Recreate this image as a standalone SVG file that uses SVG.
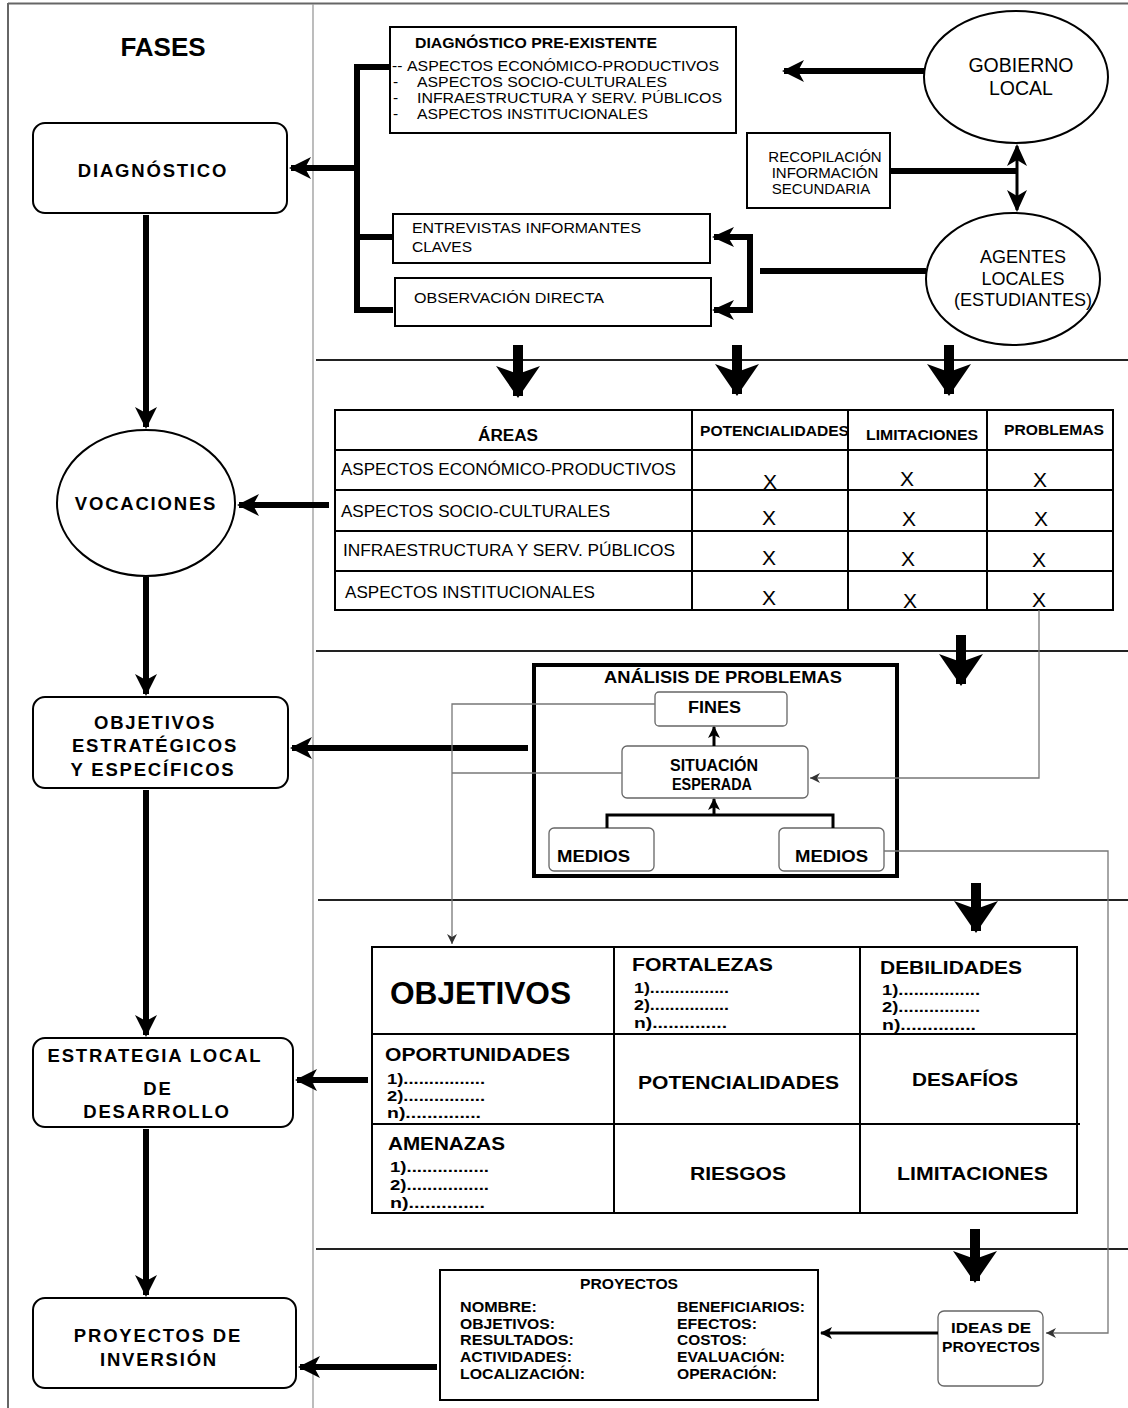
<svg xmlns="http://www.w3.org/2000/svg" width="1128" height="1408" viewBox="0 0 1128 1408">
<defs>
<style>
text{font-family:"Liberation Sans",Arial,sans-serif;fill:#000}
.ph{font-weight:bold;font-size:18.5px;letter-spacing:1.8px;text-anchor:middle}
.box{fill:#fff;stroke:#000;stroke-width:2}
.rbox{fill:#fff;stroke:#000;stroke-width:2}
.sbox{fill:#fff;stroke:#666;stroke-width:1.3}
.thick{stroke:#000;stroke-width:6;fill:none}
.big{stroke:#000;stroke-width:10;fill:none}
.med{stroke:#000;stroke-width:3;fill:none}
.gray{stroke:#777;stroke-width:1.3;fill:none}
.sec{stroke:#222;stroke-width:1.8}
.n{font-size:15.5px}
.b{font-weight:bold}
.x{font-size:21px;text-anchor:middle}
.c{text-anchor:middle}
.d{font-weight:bold;font-size:14.5px}
.h{font-weight:bold;font-size:19px}
.p{font-weight:bold;font-size:15.5px}
</style>
<marker id="ah" markerUnits="userSpaceOnUse" markerWidth="24" markerHeight="24" refX="20" refY="12" orient="auto">
<path d="M0,1 L22,12 L0,23 L6,12 z" fill="#000"/>
</marker>
<marker id="ahs" markerUnits="userSpaceOnUse" markerWidth="24" markerHeight="24" refX="20" refY="12" orient="auto-start-reverse">
<path d="M0,2 L22,12 L0,22 L6,12 z" fill="#000"/>
</marker>
<marker id="bg" markerUnits="userSpaceOnUse" markerWidth="46" markerHeight="46" refX="30" refY="23" orient="auto">
<path d="M0,1 L32,23 L0,45 L8,23 z" fill="#000"/>
</marker>
<marker id="sm" markerUnits="userSpaceOnUse" markerWidth="14" markerHeight="14" refX="11" refY="7" orient="auto">
<path d="M0,1 L12,7 L0,13 L3,7 z" fill="#000"/>
</marker>
<marker id="tn" markerUnits="userSpaceOnUse" markerWidth="12" markerHeight="12" refX="10" refY="6" orient="auto">
<path d="M0,1 L10,6 L0,11 L3,6 z" fill="#333"/>
</marker>
</defs>

<g id="frame">
<line x1="8" y1="3.5" x2="1128" y2="3.5" stroke="#666" stroke-width="2"/>
<line x1="8" y1="3" x2="8" y2="1408" stroke="#666" stroke-width="2"/>
<line x1="313" y1="4" x2="313" y2="1408" stroke="#999" stroke-width="1.3"/>
<line class="sec" x1="316" y1="360" x2="1128" y2="360"/>
<line class="sec" x1="316" y1="651" x2="1128" y2="651"/>
<line class="sec" x1="318" y1="900" x2="1128" y2="900"/>
<line class="sec" x1="316" y1="1249" x2="1128" y2="1249"/>
</g>

<g id="fases-title"><text x="163" y="56" class="b c" font-size="26">FASES</text></g>

<g id="diagnostico">
<rect x="33" y="123" width="254" height="90" rx="12" class="rbox"/>
<text x="153" y="177" class="ph">DIAGNÓSTICO</text>
</g>
<g id="vocaciones">
<ellipse cx="146" cy="503" rx="89" ry="73" class="box"/>
<text x="146" y="510" class="ph">VOCACIONES</text>
</g>
<g id="objetivos-estrategicos">
<rect x="33" y="697" width="255" height="91" rx="12" class="rbox"/>
<text x="155" y="729" class="ph">OBJETIVOS</text>
<text x="155" y="752" class="ph">ESTRATÉGICOS</text>
<text x="153" y="776" class="ph">Y ESPECÍFICOS</text>
</g>
<g id="estrategia-local">
<rect x="33" y="1038" width="260" height="89" rx="12" class="rbox"/>
<text x="155" y="1062" class="ph">ESTRATEGIA LOCAL</text>
<text x="158" y="1095" class="ph">DE</text>
<text x="157" y="1118" class="ph">DESARROLLO</text>
</g>
<g id="proyectos-inversion">
<rect x="33" y="1298" width="263" height="90" rx="12" class="rbox"/>
<text x="158" y="1342" class="ph">PROYECTOS DE</text>
<text x="159" y="1366" class="ph">INVERSIÓN</text>
</g>

<g id="diagnostico-preexistente">
<rect x="390" y="27" width="346" height="106" class="box"/>
<text x="415" y="48" class="b" font-size="15" textLength="242" lengthAdjust="spacingAndGlyphs">DIAGNÓSTICO PRE-EXISTENTE</text>
<text x="392" y="71" class="n">--</text>
<text x="407" y="71" class="n" textLength="312" lengthAdjust="spacingAndGlyphs">ASPECTOS ECONÓMICO-PRODUCTIVOS</text>
<text x="393" y="87" class="n">-</text>
<text x="417" y="87" class="n" textLength="250" lengthAdjust="spacingAndGlyphs">ASPECTOS SOCIO-CULTURALES</text>
<text x="393" y="103" class="n">-</text>
<text x="417" y="103" class="n" textLength="305" lengthAdjust="spacingAndGlyphs">INFRAESTRUCTURA Y SERV. PÚBLICOS</text>
<text x="393" y="119" class="n">-</text>
<text x="417" y="119" class="n" textLength="231" lengthAdjust="spacingAndGlyphs">ASPECTOS INSTITUCIONALES</text>
</g>
<g id="gobierno-local">
<ellipse cx="1016" cy="77" rx="92" ry="66" class="box"/>
<text x="1021" y="72" class="c" font-size="19.5">GOBIERNO</text>
<text x="1021" y="95" class="c" font-size="19.5">LOCAL</text>
</g>
<g id="recopilacion">
<rect x="747" y="133" width="143" height="75" class="box"/>
<text x="825" y="162" class="c" font-size="15">RECOPILACIÓN</text>
<text x="825" y="178" class="c" font-size="15">INFORMACIÓN</text>
<text x="821" y="194" class="c" font-size="15">SECUNDARIA</text>
</g>
<g id="agentes-locales">
<ellipse cx="1013" cy="279" rx="87" ry="66" class="box"/>
<text x="1023" y="263" class="c" font-size="18">AGENTES</text>
<text x="1023" y="285" class="c" font-size="18">LOCALES</text>
<text x="1023" y="306" class="c" font-size="18" textLength="138" lengthAdjust="spacingAndGlyphs">(ESTUDIANTES)</text>
</g>
<g id="entrevistas">
<rect x="393" y="214" width="317" height="49" class="box"/>
<text x="412" y="233" class="n" textLength="229" lengthAdjust="spacingAndGlyphs">ENTREVISTAS INFORMANTES</text>
<text x="412" y="252" class="n">CLAVES</text>
</g>
<g id="observacion">
<rect x="395" y="278" width="316" height="48" class="box"/>
<text x="414" y="303" class="n" textLength="190" lengthAdjust="spacingAndGlyphs">OBSERVACIÓN DIRECTA</text>
</g>

<g id="tabla-areas">
<rect x="335" y="410" width="778" height="200" fill="#fff" stroke="#000" stroke-width="2"/>
<g stroke="#000" stroke-width="2">
<line x1="692" y1="410" x2="692" y2="610"/>
<line x1="848" y1="410" x2="848" y2="610"/>
<line x1="987" y1="410" x2="987" y2="610"/>
<line x1="335" y1="450" x2="1113" y2="450"/>
<line x1="335" y1="490" x2="1113" y2="490"/>
<line x1="335" y1="531" x2="1113" y2="531"/>
<line x1="335" y1="571" x2="1113" y2="571"/>
</g>
<text x="478" y="441" class="b" font-size="16" textLength="60" lengthAdjust="spacingAndGlyphs">ÁREAS</text>
<text x="700" y="436" class="b" font-size="14" textLength="149" lengthAdjust="spacingAndGlyphs">POTENCIALIDADES</text>
<text x="866" y="440" class="b" font-size="14" textLength="112" lengthAdjust="spacingAndGlyphs">LIMITACIONES</text>
<text x="1004" y="435" class="b" font-size="14" textLength="100" lengthAdjust="spacingAndGlyphs">PROBLEMAS</text>
<text x="341" y="475" font-size="17" textLength="335" lengthAdjust="spacingAndGlyphs">ASPECTOS ECONÓMICO-PRODUCTIVOS</text>
<text x="341" y="517" font-size="17" textLength="269" lengthAdjust="spacingAndGlyphs">ASPECTOS SOCIO-CULTURALES</text>
<text x="343" y="556" font-size="17" textLength="332" lengthAdjust="spacingAndGlyphs">INFRAESTRUCTURA Y SERV. PÚBLICOS</text>
<text x="345" y="598" font-size="17" textLength="250" lengthAdjust="spacingAndGlyphs">ASPECTOS INSTITUCIONALES</text>
<text x="770" y="489" class="x">X</text><text x="907" y="486" class="x">X</text><text x="1040" y="487" class="x">X</text>
<text x="769" y="525" class="x">X</text><text x="909" y="526" class="x">X</text><text x="1041" y="526" class="x">X</text>
<text x="769" y="565" class="x">X</text><text x="908" y="566" class="x">X</text><text x="1039" y="567" class="x">X</text>
<text x="769" y="605" class="x">X</text><text x="910" y="608" class="x">X</text><text x="1039" y="607" class="x">X</text>
</g>

<g id="analisis-problemas">
<rect x="534" y="665" width="363" height="211" fill="#fff" stroke="#000" stroke-width="4"/>
<text x="604" y="683" class="b" font-size="17" textLength="238" lengthAdjust="spacingAndGlyphs">ANÁLISIS DE PROBLEMAS</text>
</g>
<g id="fines">
<rect x="655" y="692" width="132" height="34" rx="4" class="sbox"/>
<text x="688" y="713" class="b" font-size="17" textLength="53" lengthAdjust="spacingAndGlyphs">FINES</text>
</g>
<g id="situacion-esperada">
<rect x="622" y="746" width="186" height="52" rx="5" class="sbox"/>
<text x="670" y="771" class="b" font-size="17" textLength="88" lengthAdjust="spacingAndGlyphs">SITUACIÓN</text>
<text x="672" y="790" class="b" font-size="17" textLength="80" lengthAdjust="spacingAndGlyphs">ESPERADA</text>
</g>
<g id="medios-1">
<rect x="549" y="828" width="105" height="43" rx="5" class="sbox"/>
<text x="557" y="862" class="b" font-size="17" textLength="73" lengthAdjust="spacingAndGlyphs">MEDIOS</text>
</g>
<g id="medios-2">
<rect x="779" y="828" width="105" height="43" rx="5" class="sbox"/>
<text x="795" y="862" class="b" font-size="17" textLength="73" lengthAdjust="spacingAndGlyphs">MEDIOS</text>
</g>

<g id="tabla-foda">
<rect x="372" y="947" width="705" height="266" fill="#fff" stroke="#000" stroke-width="2"/>
<g stroke="#000" stroke-width="2">
<line x1="614" y1="947" x2="614" y2="1213"/>
<line x1="860" y1="947" x2="860" y2="1213"/>
<line x1="372" y1="1034" x2="1077" y2="1034"/>
<line x1="372" y1="1124" x2="1080" y2="1124"/>
</g>
<text x="390" y="1004" class="b" font-size="31" textLength="181" lengthAdjust="spacingAndGlyphs">OBJETIVOS</text>
<text x="632" y="971" class="h" textLength="141" lengthAdjust="spacingAndGlyphs">FORTALEZAS</text>
<text x="634" y="993" class="d" textLength="95" lengthAdjust="spacingAndGlyphs">1)................</text>
<text x="634" y="1010" class="d" textLength="95" lengthAdjust="spacingAndGlyphs">2)................</text>
<text x="634" y="1028" class="d" textLength="93" lengthAdjust="spacingAndGlyphs">n)..............</text>
<text x="880" y="974" class="h" textLength="142" lengthAdjust="spacingAndGlyphs">DEBILIDADES</text>
<text x="882" y="995" class="d" textLength="98" lengthAdjust="spacingAndGlyphs">1)................</text>
<text x="882" y="1012" class="d" textLength="98" lengthAdjust="spacingAndGlyphs">2)................</text>
<text x="882" y="1030" class="d" textLength="94" lengthAdjust="spacingAndGlyphs">n)..............</text>
<text x="385" y="1061" class="h" textLength="185" lengthAdjust="spacingAndGlyphs">OPORTUNIDADES</text>
<text x="387" y="1084" class="d" textLength="98" lengthAdjust="spacingAndGlyphs">1)................</text>
<text x="387" y="1101" class="d" textLength="98" lengthAdjust="spacingAndGlyphs">2)................</text>
<text x="387" y="1118" class="d" textLength="94" lengthAdjust="spacingAndGlyphs">n)..............</text>
<text x="638" y="1089" class="h" textLength="201" lengthAdjust="spacingAndGlyphs">POTENCIALIDADES</text>
<text x="912" y="1086" class="h" textLength="106" lengthAdjust="spacingAndGlyphs">DESAFÍOS</text>
<text x="388" y="1150" class="h" textLength="117" lengthAdjust="spacingAndGlyphs">AMENAZAS</text>
<text x="390" y="1172" class="d" textLength="99" lengthAdjust="spacingAndGlyphs">1)................</text>
<text x="390" y="1190" class="d" textLength="99" lengthAdjust="spacingAndGlyphs">2)................</text>
<text x="390" y="1208" class="d" textLength="95" lengthAdjust="spacingAndGlyphs">n)..............</text>
<text x="690" y="1180" class="h" textLength="96" lengthAdjust="spacingAndGlyphs">RIESGOS</text>
<text x="897" y="1180" class="h" textLength="151" lengthAdjust="spacingAndGlyphs">LIMITACIONES</text>
</g>

<g id="proyectos">
<rect x="440" y="1270" width="378" height="130" class="box"/>
<text x="580" y="1289" class="p" textLength="98" lengthAdjust="spacingAndGlyphs">PROYECTOS</text>
<text x="460" y="1312" class="p" textLength="77" lengthAdjust="spacingAndGlyphs">NOMBRE:</text>
<text x="460" y="1329" class="p" textLength="95" lengthAdjust="spacingAndGlyphs">OBJETIVOS:</text>
<text x="460" y="1345" class="p" textLength="114" lengthAdjust="spacingAndGlyphs">RESULTADOS:</text>
<text x="460" y="1362" class="p" textLength="112" lengthAdjust="spacingAndGlyphs">ACTIVIDADES:</text>
<text x="460" y="1379" class="p" textLength="125" lengthAdjust="spacingAndGlyphs">LOCALIZACIÓN:</text>
<text x="677" y="1312" class="p" textLength="128" lengthAdjust="spacingAndGlyphs">BENEFICIARIOS:</text>
<text x="677" y="1329" class="p" textLength="80" lengthAdjust="spacingAndGlyphs">EFECTOS:</text>
<text x="677" y="1345" class="p" textLength="70" lengthAdjust="spacingAndGlyphs">COSTOS:</text>
<text x="677" y="1362" class="p" textLength="108" lengthAdjust="spacingAndGlyphs">EVALUACIÓN:</text>
<text x="677" y="1379" class="p" textLength="100" lengthAdjust="spacingAndGlyphs">OPERACIÓN:</text>
</g>
<g id="ideas-proyectos">
<rect x="938" y="1311" width="105" height="75" rx="6" class="sbox"/>
<text x="951" y="1333" class="p" textLength="80" lengthAdjust="spacingAndGlyphs">IDEAS DE</text>
<text x="942" y="1352" class="p" textLength="98" lengthAdjust="spacingAndGlyphs">PROYECTOS</text>
</g>

<g id="connectors">
<line class="thick" x1="146" y1="215" x2="146" y2="427" marker-end="url(#ah)"/>
<line class="thick" x1="146" y1="577" x2="146" y2="694" marker-end="url(#ah)"/>
<line class="thick" x1="146" y1="790" x2="146" y2="1035" marker-end="url(#ah)"/>
<line class="thick" x1="146" y1="1129" x2="146" y2="1295" marker-end="url(#ah)"/>
<line class="thick" x1="357" y1="168" x2="291" y2="168" marker-end="url(#ah)"/>
<line class="thick" x1="329" y1="505" x2="239" y2="505" marker-end="url(#ah)"/>
<line class="thick" x1="528" y1="748" x2="292" y2="748" marker-end="url(#ah)"/>
<line class="thick" x1="368" y1="1080" x2="297" y2="1080" marker-end="url(#ah)"/>
<line class="thick" x1="437" y1="1367" x2="300" y2="1367" marker-end="url(#ah)"/>
<polyline class="thick" points="390,67 357,67 357,310 393,310"/>
<line class="thick" x1="357" y1="237" x2="393" y2="237"/>
<line class="thick" x1="924" y1="71" x2="784" y2="71" marker-end="url(#ah)"/>
<line class="thick" x1="890" y1="171" x2="1017" y2="171"/>
<line class="med" x1="1017" y1="146" x2="1017" y2="210" stroke-width="4" marker-start="url(#ahs)" marker-end="url(#ahs)"/>
<line class="thick" x1="760" y1="271" x2="926" y2="271"/>
<polyline class="thick" points="714,237 750,237 750,310 714,310" marker-start="url(#ahs)" marker-end="url(#ahs)"/>
<line class="big" x1="518" y1="345" x2="518" y2="396" marker-end="url(#bg)"/>
<line class="big" x1="737" y1="345" x2="737" y2="394" marker-end="url(#bg)"/>
<line class="big" x1="949" y1="345" x2="949" y2="394" marker-end="url(#bg)"/>
<line class="big" x1="961" y1="635" x2="961" y2="684" marker-end="url(#bg)"/>
<line class="big" x1="976" y1="883" x2="976" y2="931" marker-end="url(#bg)"/>
<line class="big" x1="975" y1="1229" x2="975" y2="1281" marker-end="url(#bg)"/>
<line class="med" x1="714" y1="746" x2="714" y2="727" marker-end="url(#sm)"/>
<polyline class="med" points="607,828 607,815 833,815 833,828"/>
<line class="med" x1="714" y1="815" x2="714" y2="799" marker-end="url(#sm)"/>
<polyline class="gray" points="1039,610 1039,778 810,778" marker-end="url(#tn)"/>
<polyline class="gray" points="655,704 452,704 452,944" marker-end="url(#tn)"/>
<line class="gray" x1="452" y1="773" x2="622" y2="773"/>
<polyline class="gray" points="884,851 1108,851 1108,1333 1046,1333" marker-end="url(#tn)"/>
<line class="med" x1="938" y1="1333" x2="821" y2="1333" stroke-width="2.5" marker-end="url(#sm)"/>
</g>
</svg>
